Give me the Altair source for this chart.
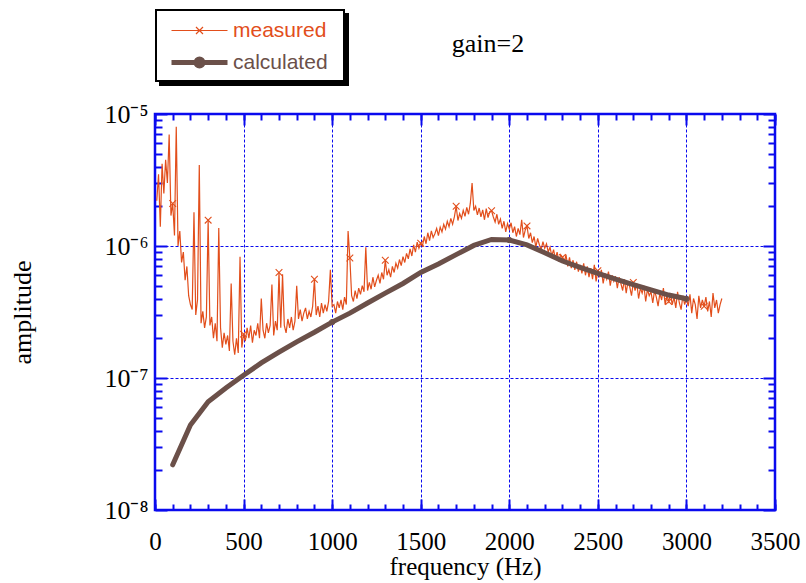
import altair as alt
import pandas as pd

# ---------------- data ----------------
# measured amplitude, in units of 1e-7, every 10 Hz from 10 Hz to 3200 Hz
MEAS_START_HZ = 10
MEAS_STEP_HZ = 10
meas_e7 = [
    22, 35, 14, 42, 25, 45, 30, 70, 17, 21,
    12, 80, 10, 13, 7.5, 9, 5.5, 7, 4.2, 3.6,
    3.3, 18, 3.0, 3.9, 41, 2.6, 3.2, 2.4, 2.9, 15.7,
    2.5, 2.9, 2.0, 2.6, 1.9, 13.7, 2.4, 1.7, 2.2, 1.8,
    2.1, 1.6, 5.2, 1.9, 1.5, 2.0, 1.55, 8.3, 1.7, 2.15,
    1.9, 2.4, 2.0, 2.5, 1.85, 2.3, 2.1, 2.6, 2.0, 4.0,
    2.3, 2.0, 2.6, 2.2, 2.5, 5.1, 2.1, 2.7, 2.3, 6.3,
    2.4, 6.1, 2.5, 2.2, 2.8, 2.4, 2.9, 2.3, 2.7, 5.0,
    2.8, 3.3, 2.7, 3.1, 3.4, 2.8, 3.2, 2.9, 3.5, 5.6,
    3.0, 3.5, 2.9, 3.7, 3.1, 3.6, 3.2, 3.8, 6.6, 3.5,
    3.6, 3.1, 3.8, 3.4, 3.9, 3.3, 4.1, 3.6, 13, 8.1,
    4.2, 3.8, 4.6, 4.0, 4.8, 4.3, 5.0, 4.5, 9.8, 4.6,
    5.3, 4.7, 5.8, 4.9, 5.5, 6.0, 5.2, 6.3, 5.6, 7.8,
    6.0, 6.6, 5.8, 7.0, 6.3, 7.4, 6.8, 7.9, 7.1, 8.3,
    7.5, 8.8, 8.0, 9.5, 8.4, 10.2, 9.0, 10.7, 9.6, 10.5,
    10.0, 11.8, 10.4, 12.6, 11.0, 13.0, 11.6, 12.4, 13.6, 12.0,
    13.9, 12.8, 14.6, 13.4, 15.4, 14.0, 16.2, 14.6, 16.6, 20.0,
    15.6, 17.6, 16.2, 18.6, 16.8, 19.6, 17.4, 21, 30, 18.6,
    20, 17.2, 19.4, 16.6, 18.8, 15.8, 19.2, 16.4, 18.2, 18.5,
    16.6, 15.2, 17.4, 14.6, 16.0, 13.6, 15.4, 12.8, 14.8, 13.4,
    15.0, 12.6, 14.0, 11.8, 13.6, 12.2, 15.8, 11.6, 13.2, 14.2,
    11.4, 12.6, 10.6, 11.8, 9.8, 11.4, 10.2, 9.4, 10.8, 9.6,
    10.4, 9.0, 9.8, 8.4, 9.4, 8.0, 9.0, 7.6, 8.6, 8.2,
    7.4, 8.6, 7.0, 8.2, 6.8, 7.8, 6.6, 7.6, 6.4, 7.2,
    6.2, 7.4, 6.0, 7.0, 5.8, 6.8, 5.6, 7.2, 5.4, 6.5,
    5.8, 6.6, 5.2, 6.2, 5.6, 6.4, 5.0, 6.0, 5.4, 5.9,
    4.8, 5.8, 5.2, 4.6, 5.6, 4.4, 5.4, 4.9, 4.2, 5.3,
    4.6, 5.2, 4.0, 4.8, 4.4, 5.0, 3.8, 4.7, 4.2, 4.5,
    3.7, 4.6, 4.1, 3.5, 4.4, 3.9, 4.8, 3.6, 4.2, 3.8,
    4.3, 3.6, 4.1, 3.4, 4.5, 3.7, 3.3, 4.2, 3.6, 4.0,
    3.5, 4.3, 3.1, 4.0, 3.6, 2.8, 4.2, 3.4, 3.9, 3.5,
    4.1, 3.2, 3.8, 2.9, 4.4, 3.4, 3.9, 3.1, 3.6, 4.0,
]
meas_freq = [MEAS_START_HZ + i * MEAS_STEP_HZ for i in range(len(meas_e7))]

# calculated amplitude, in units of 1e-7
calc_freq = [100, 200, 300, 400, 500, 600, 700, 800, 900, 1000,
             1100, 1200, 1300, 1400, 1500, 1600, 1700, 1800, 1900, 2000,
             2100, 2200, 2300, 2400, 2500, 2600, 2700, 2800, 2900, 3000]
calc_e7 = [0.22, 0.44, 0.66, 0.84, 1.05, 1.30, 1.57, 1.88, 2.22, 2.65,
           3.1, 3.7, 4.4, 5.2, 6.3, 7.3, 8.6, 10.1, 11.2, 11.1,
           10.2, 8.9, 7.7, 6.9, 6.2, 5.6, 5.1, 4.65, 4.25, 3.98]

UNIT = 1e-7
series_names = ["measured", "calculated"]

x_major = [0, 500, 1000, 1500, 2000, 2500, 3000, 3500]
x_minor = list(range(0, 3501, 100))
x_grid = [500, 1000, 1500, 2000, 2500, 3000]
y_major = [1e-8, 1e-7, 1e-6, 1e-5]
y_major_exp = ["\u207b\u2078", "\u207b\u2077", "\u207b\u2076", "\u207b\u2075"]
y_minor = [m * 10.0 ** e for e in (-8, -7, -6) for m in range(2, 10)]
y_grid = [1e-7, 1e-6]

meas_df = pd.DataFrame({"f": meas_freq, "v": [a * UNIT for a in meas_e7],
                        "series": series_names[0]})
calc_df = pd.DataFrame({"f": calc_freq, "v": [a * UNIT for a in calc_e7],
                        "series": series_names[1]})

# ---------------- style ----------------
ORANGE = "#E24E1B"
BROWN = "#6B5049"
BLUE = "#0a0aee"
SERIF = "Liberation Serif"
SANS = "Liberation Sans"
NBSP = "\u00a0"

XS = alt.Scale(domain=[0, 3500], nice=False, zero=False)
YS = alt.Scale(type="log", domain=[1e-8, 1e-5], nice=False)

label_expr = "'10' + (" + " : ".join(
    [f"datum.value < {y_major[i] * 3:g} ? '{y_major_exp[i]}'" for i in range(3)]
) + f" : '{y_major_exp[3]}')"


def tick_axis(orient, values, size):
    return alt.Axis(orient=orient, values=values, tickSize=size, tickWidth=2,
                    tickColor=BLUE, offset=-size, domain=False, grid=False,
                    labels=False, title=None)


x_main = alt.Axis(orient="bottom", values=x_major, format="d", tickSize=11, tickWidth=2,
                  tickColor=BLUE, offset=-11, domain=False, grid=False,
                  labelFont=SERIF, labelFontSize=25, labelColor="black",
                  labelPadding=19, labelFlush=False, labelOverlap=False,
                  title="frequency (Hz)", titleFont=SERIF, titleFontSize=25,
                  titleFontWeight="normal", titleColor="black", titlePadding=0)
y_main = alt.Axis(orient="left", values=y_major, tickSize=12, tickWidth=2,
                  tickColor=BLUE, offset=-12, domain=False, grid=False,
                  labelExpr=label_expr, labelFont=SERIF, labelFontSize=26,
                  labelColor="black", labelPadding=7, labelFlush=False,
                  labelOverlap=False, labelBaseline="middle",
                  title="amplitude", titleFont=SERIF, titleFontSize=26,
                  titleFontWeight="normal", titleColor="black", titlePadding=68)
x_gridaxis = alt.Axis(orient="bottom", values=x_grid, grid=True, gridColor=BLUE,
                      gridDash=[3, 2], gridWidth=1, ticks=False, labels=False,
                      domain=False, title=None)
y_gridaxis = alt.Axis(orient="left", values=y_grid, grid=True, gridColor=BLUE,
                      gridDash=[3, 2], gridWidth=1, ticks=False, labels=False,
                      domain=False, title=None)

# legend symbols: line with marker; the trailing move-to widens the legend box
MEAS_SYMBOL = "M-1,0H10.2M3.9,-0.7L5.3,0.7M3.9,0.7L5.3,-0.7M31,0"
CALC_SYMBOL = "M-1,0H10.2M5.3,0A0.7,0.7 0 1,1 3.9,0A0.7,0.7 0 1,1 5.3,0"
X_SHAPE = "M-1,-1L1,1M-1,1L1,-1"
BOX_TITLE = NBSP * 30

leg_common = dict(orient="none", padding=10, title=BOX_TITLE, titleOrient="bottom",
                  titleFontSize=20, titlePadding=10, symbolType=MEAS_SYMBOL,
                  symbolSize=100, symbolStrokeWidth=1.2, labelFont=SANS,
                  labelFontSize=21, labelOffset=46)
# drop shadow of the legend box (drawn first, offset by 4 px, no label text)
leg_shadow = alt.Legend(legendX=5, legendY=-100, strokeColor="black", fillColor="black",
                        labelColor="black", labelExpr="''", **leg_common)
leg_meas = alt.Legend(legendX=1, legendY=-104, strokeColor="black", fillColor="white",
                      labelColor=ORANGE, **leg_common)
leg_calc = alt.Legend(orient="none", legendX=1, legendY=-72, padding=10,
                      title=None, symbolType=CALC_SYMBOL, symbolSize=100,
                      symbolStrokeWidth=5, labelFont=SANS, labelFontSize=21,
                      labelColor=BROWN, labelOffset=46)

color_shadow = alt.Color("series:N", scale=alt.Scale(domain=[series_names[0]], range=["black"]),
                         legend=leg_shadow)
color_meas = alt.Color("series:N", scale=alt.Scale(domain=[series_names[0]], range=[ORANGE]),
                       legend=leg_meas)
color_calc = alt.Color("series:N", scale=alt.Scale(domain=[series_names[1]], range=[BROWN]),
                       legend=leg_calc)

grid_layer = alt.Chart(meas_df).mark_line(opacity=0).encode(
    x=alt.X("f:Q", scale=XS, axis=x_gridaxis),
    y=alt.Y("v:Q", scale=YS, axis=y_gridaxis),
    color=color_shadow,
)

m_line = alt.Chart(meas_df).mark_line(strokeWidth=1.2).encode(
    x=alt.X("f:Q", scale=XS, axis=x_main),
    y=alt.Y("v:Q", scale=YS, axis=y_main),
    color=color_meas,
)
m_pts = alt.Chart(meas_df).transform_filter("datum.f % 200 == 100").mark_point(
    shape=X_SHAPE, size=45, filled=False, strokeWidth=1.1, opacity=1
).encode(
    x=alt.X("f:Q", scale=XS, axis=tick_axis("bottom", x_minor, 6)),
    y=alt.Y("v:Q", scale=YS, axis=tick_axis("left", y_minor, 7)),
    color=color_meas,
)
meas_layer = alt.layer(m_line, m_pts).resolve_axis(x="independent", y="independent")

c_line = alt.Chart(calc_df).mark_line(strokeWidth=5, strokeCap="round").encode(
    x=alt.X("f:Q", scale=XS, axis=tick_axis("top", x_major, 11)),
    y=alt.Y("v:Q", scale=YS, axis=tick_axis("right", y_major, 12)),
    color=color_calc,
)
c_pts = alt.Chart(calc_df).transform_filter("datum.f % 1000 == 0").mark_point(
    shape="circle", size=30, filled=False, strokeWidth=1, opacity=1
).encode(
    x=alt.X("f:Q", scale=XS, axis=tick_axis("top", x_minor, 6)),
    y=alt.Y("v:Q", scale=YS, axis=tick_axis("right", y_minor, 7)),
    color=color_calc,
)
calc_layer = alt.layer(c_line, c_pts).resolve_axis(x="independent", y="independent")

chart = alt.layer(grid_layer, meas_layer, calc_layer).resolve_scale(
    color="independent"
).resolve_axis(x="independent", y="independent").properties(
    width=620, height=396,
    autosize=alt.AutoSizeParams(type="none"),
    padding={"left": 155, "top": 114, "right": 31, "bottom": 73},
    title=alt.TitleParams(text="gain=2", font=SERIF, fontSize=26, fontWeight="normal",
                          color="black", anchor="middle", dx=23, offset=-61,
                          baseline="middle", frame="group"),
).configure_view(stroke=BLUE, strokeWidth=2.5).configure_legend(strokeWidth=2)

chart.save("out.html", embed_options={"renderer": "svg", "actions": False})
